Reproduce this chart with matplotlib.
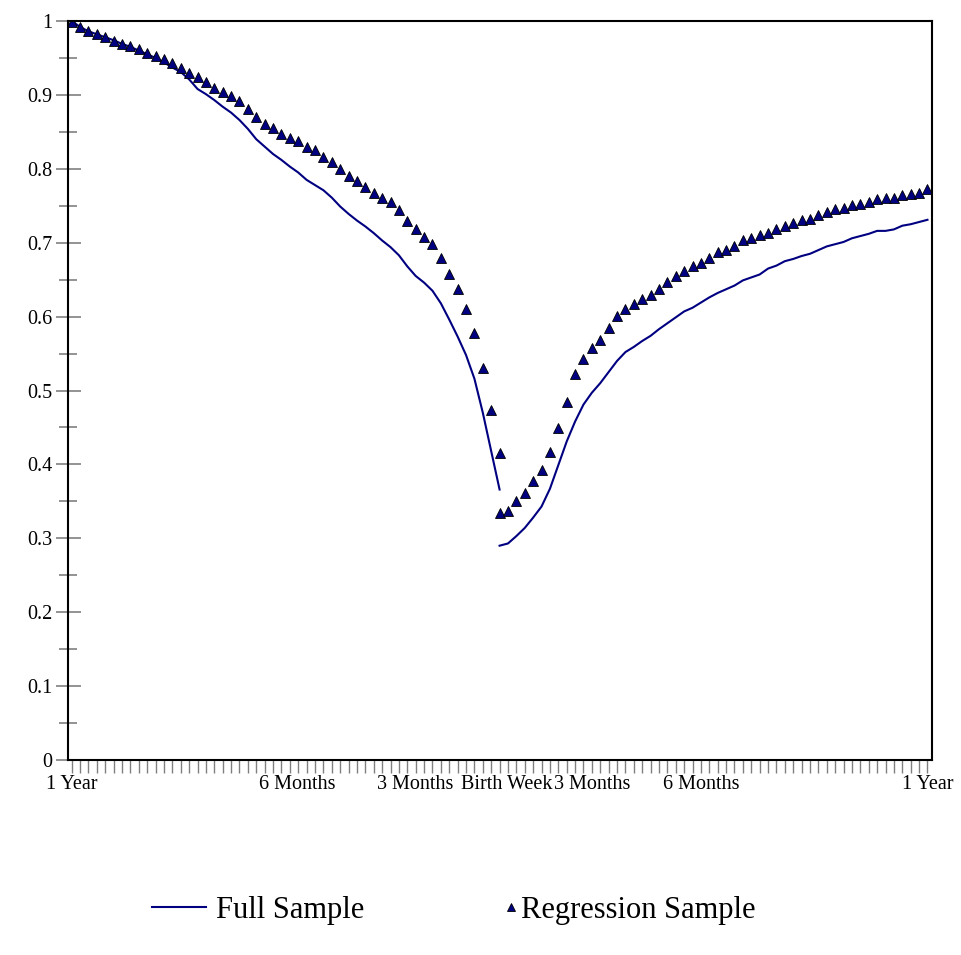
import numpy as np
import matplotlib.pyplot as plt
from matplotlib.lines import Line2D

plt.rcParams['font.family'] = ['Liberation Serif', 'DejaVu Serif']

# weekly positions: 0 = one year before birth, 51 = birth week, 102 = one year after
weeks_pre = np.arange(0, 52)
weeks_post = np.arange(51, 103)

full_pre = [1.000, 0.992, 0.986, 0.982, 0.978, 0.974, 0.969, 0.965, 0.960, 0.955,
            0.950, 0.944, 0.937, 0.931, 0.921, 0.908, 0.901, 0.893, 0.884, 0.876,
            0.866, 0.854, 0.840, 0.830, 0.820, 0.812, 0.803, 0.795, 0.785, 0.778,
            0.771, 0.761, 0.749, 0.739, 0.730, 0.722, 0.713, 0.703, 0.694, 0.683,
            0.668, 0.655, 0.646, 0.635, 0.618, 0.596, 0.573, 0.548, 0.516, 0.470,
            0.418, 0.366]
full_post = [0.290, 0.293, 0.303, 0.314, 0.328, 0.343, 0.367, 0.399, 0.431, 0.458,
             0.481, 0.497, 0.510, 0.525, 0.540, 0.552, 0.559, 0.567, 0.574, 0.583,
             0.591, 0.599, 0.607, 0.612, 0.619, 0.626, 0.632, 0.637, 0.642, 0.649,
             0.653, 0.657, 0.665, 0.669, 0.675, 0.678, 0.682, 0.685, 0.690, 0.695,
             0.698, 0.701, 0.706, 0.709, 0.712, 0.716, 0.716, 0.718, 0.723, 0.725,
             0.728, 0.731]

reg_pre = [0.999, 0.992, 0.987, 0.983, 0.978, 0.973, 0.969, 0.966, 0.962, 0.957,
           0.953, 0.949, 0.943, 0.936, 0.930, 0.924, 0.918, 0.910, 0.904, 0.898,
           0.892, 0.881, 0.870, 0.861, 0.855, 0.847, 0.842, 0.837, 0.829, 0.825,
           0.816, 0.809, 0.800, 0.790, 0.784, 0.776, 0.767, 0.761, 0.755, 0.744,
           0.730, 0.719, 0.708, 0.698, 0.679, 0.657, 0.638, 0.610, 0.578, 0.531,
           0.473, 0.416]
reg_post = [0.334, 0.337, 0.350, 0.361, 0.377, 0.393, 0.417, 0.449, 0.484, 0.522,
            0.543, 0.558, 0.569, 0.584, 0.601, 0.610, 0.617, 0.624, 0.629, 0.637,
            0.647, 0.655, 0.662, 0.668, 0.673, 0.679, 0.687, 0.690, 0.696, 0.703,
            0.706, 0.710, 0.713, 0.719, 0.723, 0.727, 0.731, 0.732, 0.738, 0.742,
            0.745, 0.747, 0.751, 0.752, 0.755, 0.759, 0.760, 0.761, 0.765, 0.766,
            0.767, 0.772]

label_pos = [0, 26.9, 41.0, 51.8, 62.0, 75.0, 102]
label_txt = ['1 Year', '6 Months', '3 Months', 'Birth Week', '3 Months', '6 Months', '1 Year']

navy = '#000080'
gray = '#808080'

fig = plt.figure(figsize=(9.61, 9.55), dpi=100)
ax = fig.add_axes([68/961, 1 - 760/955, 864/961, 739/955])

ax.plot(weeks_pre, full_pre, color=navy, lw=1.5)
ax.plot(weeks_post, full_post, color=navy, lw=1.5)
ax.plot(weeks_pre, reg_pre, ls='none', marker='^', ms=6.5, mfc=navy, mec='black', mew=0.6)
ax.plot(weeks_post, reg_post, ls='none', marker='^', ms=6.5, mfc=navy, mec='black', mew=0.6)

ax.set_xlim(-0.44, 102.54)
ax.set_ylim(0, 1)

# y axis
ax.set_yticks(np.arange(0, 1.01, 0.1))
ax.set_yticklabels(['0', '0.1', '0.2', '0.3', '0.4', '0.5', '0.6', '0.7', '0.8', '0.9', '1'])
ax.set_yticks(np.arange(0.05, 1.0, 0.1), minor=True)
ax.tick_params(axis='y', which='major', direction='inout', length=18, width=1.2,
               color=gray, labelsize=14.5, pad=2)
ax.tick_params(axis='y', which='minor', direction='inout', length=13, width=1.2, color=gray)

# x axis: weekly tick marks, labels only at landmarks
ax.xaxis.remove_overlapping_locs = False
ax.set_xticks(np.arange(0, 103), minor=True)
ax.set_xticks(label_pos)
ax.set_xticklabels(label_txt)
ax.tick_params(axis='x', which='minor', direction='out', length=9.5, width=1.0, color=gray)
ax.tick_params(axis='x', which='major', length=0, labelsize=14.5, pad=11)

for s in ax.spines.values():
    s.set_linewidth(1.5)
    s.set_color('black')

h1 = Line2D([], [], color=navy, lw=1.5)
h2 = Line2D([], [], ls='none', marker='^', ms=6, mfc=navy, mec='black', mew=0.6)
fig.legend([h1], ['Full Sample'], loc='center left', bbox_to_anchor=(152/961, 0.047),
           frameon=False, fontsize=22, handlelength=1.77, handletextpad=0.33,
           borderpad=0, borderaxespad=0)
fig.legend([h2], ['Regression Sample'], loc='center left', bbox_to_anchor=(500/961, 0.047),
           frameon=False, fontsize=22, handlelength=0.7, handletextpad=0.0,
           borderpad=0, borderaxespad=0)

fig.savefig('out.png', dpi=100)
